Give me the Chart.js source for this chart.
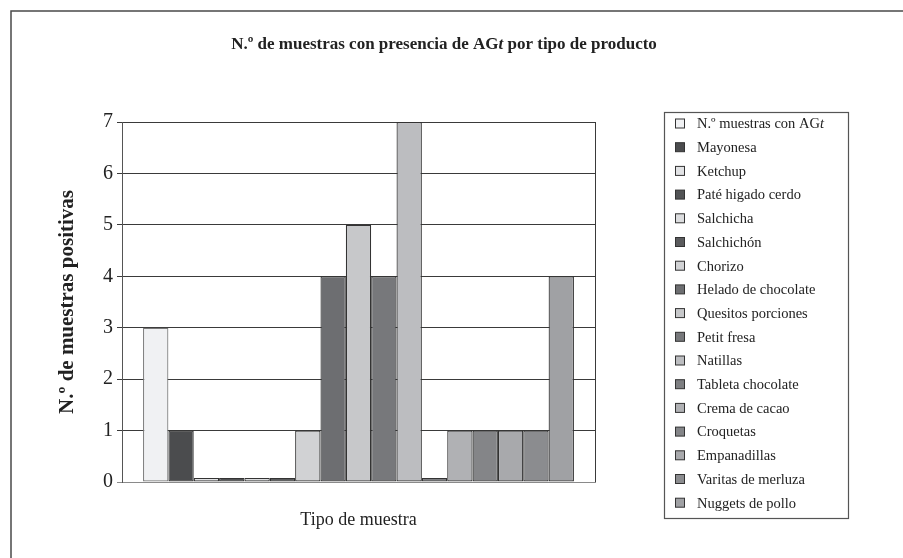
<!DOCTYPE html>
<html lang="es">
<head>
<meta charset="utf-8">
<title>N.º de muestras con presencia de AGt por tipo de producto</title>
<script src="https://cdn.jsdelivr.net/npm/chart.js@4/dist/chart.umd.min.js"></script>
<style>
  html, body { margin: 0; padding: 0; background: #ffffff; }
  canvas { display: block; }
</style>
</head>
<body>
<canvas id="chart" width="903" height="558"></canvas>
<script>
// Single category, one bar per product type
const categories = [''];
const seriesNames = [
  'N.º muestras con AGt', 'Mayonesa', 'Ketchup', 'Paté higado cerdo', 'Salchicha',
  'Salchichón', 'Chorizo', 'Helado de chocolate', 'Quesitos porciones', 'Petit fresa',
  'Natillas', 'Tableta chocolate', 'Crema de cacao', 'Croquetas', 'Empanadillas',
  'Varitas de merluza', 'Nuggets de pollo'
];
const seriesValues = [3, 1, 0.08, 0.08, 0.08, 0.08, 1, 4, 5, 4, 7, 0.08, 1, 1, 1, 1, 4];
const yTicks = [0, 1, 2, 3, 4, 5, 6, 7];

const fills = [
  '#f0f1f3', '#4b4c4e', '#e2e3e5', '#525355', '#dcdddf', '#5a5b5d', '#d1d2d4',
  '#6d6e71', '#c7c8ca', '#77787b', '#bcbdc0', '#7e7f82', '#b0b1b4', '#848588',
  '#a8a9ac', '#8b8c8f', '#a0a1a4'
];
const edges = ['#777777', '#333333'];

const SERIF = '"Liberation Serif", "Times New Roman", serif';
const TEXT = '#222222';

// Split a label so the "t" of "AGt" is set in italics
function runsFor(text, size, weight) {
  const base = `${weight} ${size}px ${SERIF}`;
  const ital = `italic ${weight} ${size}px ${SERIF}`;
  const runs = [];
  const parts = text.split('AGt');
  parts.forEach((p, i) => {
    if (p) runs.push({ text: p, font: base });
    if (i < parts.length - 1) {
      runs.push({ text: 'AG', font: base });
      runs.push({ text: 't', font: ital });
    }
  });
  return runs;
}

function drawRuns(ctx, runs, x, y, align) {
  let total = 0;
  runs.forEach(r => { ctx.font = r.font; total += ctx.measureText(r.text).width; });
  let cx = align === 'center' ? x - total / 2 : x;
  ctx.textAlign = 'left';
  runs.forEach(r => {
    ctx.font = r.font;
    ctx.fillText(r.text, cx, y);
    cx += ctx.measureText(r.text).width;
  });
}

const decor = {
  id: 'decor',
  beforeDraw(chart) {
    const ctx = chart.ctx;
    ctx.save();
    ctx.fillStyle = '#ffffff';
    ctx.fillRect(0, 0, chart.width, chart.height);
    // outer frame
    ctx.strokeStyle = '#4a4a4a';
    ctx.lineWidth = 1.5;
    ctx.strokeRect(11, 11, chart.width + 20, chart.height + 20);
    ctx.restore();
  },
  beforeDatasetsDraw(chart) {
    const { ctx, chartArea: a } = chart;
    ctx.save();
    ctx.strokeStyle = '#3a3a3a';
    ctx.lineWidth = 1;
    ctx.beginPath();
    ctx.moveTo(Math.round(a.right) + 0.5, a.top);
    ctx.lineTo(Math.round(a.right) + 0.5, a.bottom);
    ctx.stroke();
    ctx.restore();
  },
  afterDraw(chart) {
    const ctx = chart.ctx;
    ctx.save();
    ctx.fillStyle = TEXT;
    ctx.textBaseline = 'middle';
    // chart title
    drawRuns(ctx, runsFor('N.º de muestras con presencia de AGt por tipo de producto', 17, 'bold'), 444, 45, 'center');

    // legend box
    const lx = 664, ly = 112, lw = 184, lh = 406;
    ctx.strokeStyle = '#555555';
    ctx.lineWidth = 1.2;
    ctx.strokeRect(lx + 0.5, ly + 0.5, lw, lh);
    const step = 23.7;
    chart.data.datasets.forEach((ds, i) => {
      const cy = ly + 11.5 + i * step;
      ctx.fillStyle = ds.backgroundColor;
      ctx.fillRect(675, cy - 4.5, 9, 9);
      ctx.strokeStyle = '#333333';
      ctx.lineWidth = 1;
      ctx.strokeRect(675.5, cy - 4.5, 9, 9);
      ctx.fillStyle = TEXT;
      drawRuns(ctx, runsFor(ds.label, 14.5, 'normal'), 697, cy + 1, 'left');
    });
    ctx.restore();
  }
};

new Chart(document.getElementById('chart'), {
  type: 'bar',
  data: {
    labels: categories,
    datasets: seriesNames.map((name, i) => ({
      label: name,
      data: [seriesValues[i]],
      backgroundColor: fills[i],
      borderColor: i === 0 ? edges[0] : edges[1],
      borderWidth: 1.2,
      borderSkipped: false,
      barPercentage: 1,
      categoryPercentage: 0.911
    }))
  },
  options: {
    responsive: false,
    animation: false,
    devicePixelRatio: 1,
    layout: { padding: { left: 55, right: 308, top: 122, bottom: 0 } },
    plugins: {
      legend: { display: false },
      title: { display: false },
      tooltip: { enabled: false }
    },
    scales: {
      x: {
        grid: { display: false },
        border: { display: true, color: '#8a8a8a', width: 1 },
        ticks: { display: false },
        title: {
          display: true,
          text: 'Tipo de muestra',
          color: TEXT,
          font: { family: SERIF, size: 18 },
          padding: { top: 0, bottom: 27 }
        },
        afterFit(s) { s.height = 76; }
      },
      y: {
        min: 0,
        max: 7,
        afterBuildTicks(s) { s.ticks = yTicks.map(v => ({ value: v })); },
        grid: {
          color: c => (c.tick && c.tick.value === 0 ? '#8a8a8a' : '#3a3a3a'),
          lineWidth: 1,
          tickLength: 5,
          drawTicks: true
        },
        border: { display: true, color: '#555555', width: 1 },
        ticks: {
          color: TEXT,
          padding: 4,
          font: { family: SERIF, size: 20 }
        },
        title: {
          display: true,
          text: 'N.º de muestras positivas',
          color: TEXT,
          font: { family: SERIF, size: 21, weight: 'bold' },
          padding: { top: 0, bottom: 0 }
        },
        afterFit(s) { s.width = 67; }
      }
    }
  },
  plugins: [decor]
});
</script>
</body>
</html>
